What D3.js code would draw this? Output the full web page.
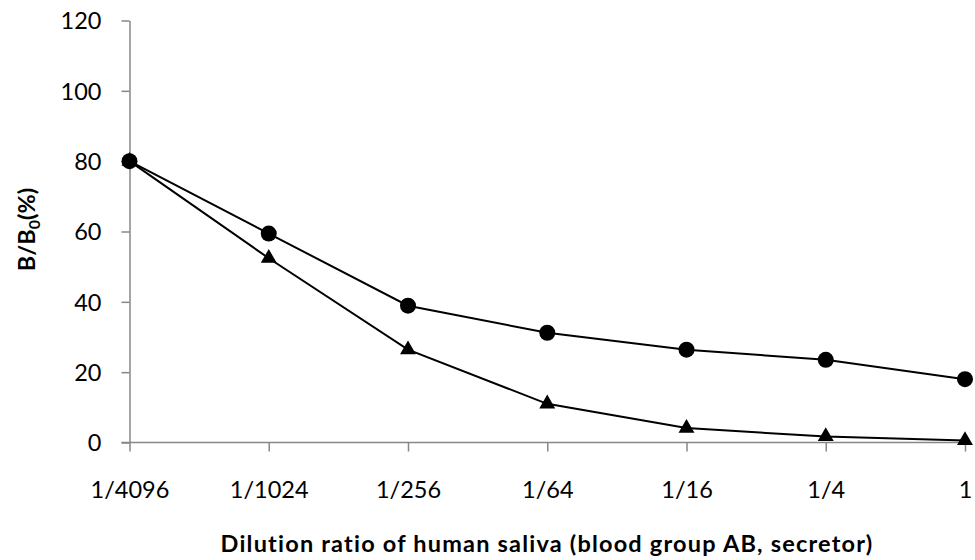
<!DOCTYPE html>
<html>
<head>
<meta charset="utf-8">
<script src="https://cdn.jsdelivr.net/npm/d3@7"></script>
<style>
  html, body { margin: 0; padding: 0; background: #fff; }
  svg { display: block; font-family: Lato, "Open Sans", sans-serif; }
</style>
</head>
<body>
<svg id="chart" width="975" height="560"></svg>
<script>
// Dilution steps of saliva (x categories)
const dilutions = ["1/4096", "1/1024", "1/256", "1/64", "1/16", "1/4", "1"];
// B/B0 (%) for the two series
const circleSeries = [80, 59.4, 38.9, 31.2, 26.4, 23.5, 18.0];
const triangleSeries = [80, 52.4, 26.4, 11.0, 4.1, 1.7, 0.6];
// Y axis ticks
const yTicks = [0, 20, 40, 60, 80, 100, 120];

const svg = d3.select("#chart");
const axisColor = "#878787";

const x = d3.scalePoint().domain(dilutions).range([129.5, 965]);
const y = d3.scaleLinear().domain([0, 120]).range([442.5, 20.5]);

// Y axis
const yAxis = svg.append("g")
  .attr("transform", `translate(${x(dilutions[0])},0)`)
  .call(d3.axisLeft(y).tickValues(yTicks).tickSize(8).tickPadding(20).tickSizeOuter(0));
yAxis.select(".domain").attr("stroke", axisColor).attr("stroke-width", 1.5);
yAxis.selectAll(".tick line").attr("stroke", axisColor).attr("stroke-width", 1.5);
yAxis.selectAll(".tick text")
  .attr("fill", "#000").attr("font-size", 23.5)
  .attr("font-family", "Lato, 'Open Sans', sans-serif")
  .attr("dy", "0.35em");

// X axis
const xAxis = svg.append("g")
  .attr("transform", `translate(0,${y(0)})`)
  .call(d3.axisBottom(x).tickSize(9).tickPadding(0).tickSizeOuter(0));
xAxis.select(".domain").attr("stroke", axisColor).attr("stroke-width", 1.5)
  .attr("d", `M${x(dilutions[0]) - 8},0H${x(dilutions[dilutions.length - 1])}`);
xAxis.selectAll(".tick line").attr("stroke", axisColor).attr("stroke-width", 1.5);
xAxis.selectAll(".tick text")
  .attr("fill", "#000").attr("font-size", 23.5)
  .attr("font-family", "Lato, 'Open Sans', sans-serif")
  .attr("y", 55).attr("dy", 0);

// Series lines
const line = d3.line().x((d, i) => x(dilutions[i])).y(d => y(d));

svg.append("path").datum(circleSeries)
  .attr("d", line).attr("fill", "none").attr("stroke", "#000").attr("stroke-width", 2);
svg.append("path").datum(triangleSeries)
  .attr("d", line).attr("fill", "none").attr("stroke", "#000").attr("stroke-width", 2);

// Circle markers
svg.append("g").selectAll("circle").data(circleSeries).join("circle")
  .attr("cx", (d, i) => x(dilutions[i])).attr("cy", d => y(d))
  .attr("r", 8).attr("fill", "#000");

// Triangle markers
const tri = d3.symbol().type(d3.symbolTriangle).size(110);
svg.append("g").selectAll("path").data(triangleSeries).join("path")
  .attr("transform", (d, i) => `translate(${x(dilutions[i])},${y(d)})`)
  .attr("d", tri).attr("fill", "#000");

// Axis titles
const yTitle = svg.append("text")
  .attr("transform", "translate(35,229.5) rotate(-90)")
  .attr("text-anchor", "middle")
  .attr("font-weight", "bold").attr("font-size", 23.5).attr("fill", "#000");
yTitle.append("tspan").text("B/B");
yTitle.append("tspan").attr("font-size", 16).attr("dy", 5).text("0");
yTitle.append("tspan").attr("dy", -5).text("(%)");

svg.append("text")
  .attr("x", 547).attr("y", 552)
  .attr("text-anchor", "middle")
  .attr("font-weight", "bold").attr("font-size", 23.5).attr("fill", "#000")
  .attr("letter-spacing", 1.2)
  .text("Dilution ratio of human saliva (blood group AB, secretor)");
</script>
</body>
</html>
